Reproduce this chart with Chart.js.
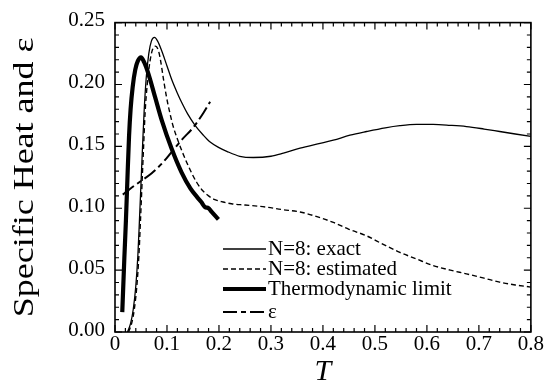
<!DOCTYPE html>
<html>
<head>
<meta charset="utf-8">
<script src="https://cdn.jsdelivr.net/npm/chart.js@4/dist/chart.umd.min.js"></script>
<style>
  html, body { margin: 0; padding: 0; background: #fff; }
  #wrap { position: relative; width: 544px; height: 388px; }
  #legend { position: absolute; left: 223px; top: 238px; font-family: "Liberation Serif", serif; font-size: 21px; color: #000; }
  .row { display: flex; align-items: center; height: 20px; line-height: 20px; white-space: nowrap; }
  .row svg { width: 43px; height: 20px; margin-right: 2px; flex: none; }
</style>
</head>
<body>
<div id="wrap">
  <canvas id="c" width="544" height="388"></canvas>
  <div id="legend"></div>
</div>
<script>
// ---- data ----
const exactT   = [0.024,0.030,0.035,0.040,0.044,0.047,0.050,0.053,0.056,0.060,0.065,0.070,0.076,0.082,0.090,0.100,0.110,0.120,0.130,0.140,0.154,0.170,0.183,0.200,0.215,0.240,0.266,0.300,0.324,0.356,0.390,0.420,0.452,0.484,0.520,0.548,0.580,0.612,0.645,0.676,0.710,0.740,0.770,0.800];
const exactC   = [0.000,0.007,0.018,0.037,0.062,0.090,0.120,0.150,0.178,0.205,0.225,0.235,0.238,0.235,0.227,0.215,0.203,0.193,0.184,0.176,0.167,0.159,0.1535,0.149,0.146,0.142,0.141,0.142,0.1445,0.1485,0.152,0.155,0.159,0.162,0.165,0.1667,0.1677,0.1677,0.167,0.166,0.164,0.162,0.160,0.158];

const estT     = [0.026,0.032,0.037,0.042,0.046,0.049,0.052,0.055,0.058,0.062,0.067,0.072,0.078,0.083,0.087,0.093,0.099,0.105,0.112,0.120,0.128,0.138,0.148,0.157,0.167,0.180,0.192,0.208,0.224,0.250,0.290,0.320,0.356,0.390,0.420,0.450,0.484,0.515,0.548,0.580,0.612,0.645,0.676,0.710,0.740,0.770,0.800];
const estC     = [0.000,0.007,0.018,0.037,0.062,0.090,0.120,0.150,0.178,0.200,0.218,0.228,0.231,0.228,0.221,0.205,0.190,0.178,0.166,0.156,0.147,0.137,0.128,0.121,0.115,0.110,0.107,0.105,0.1036,0.1026,0.101,0.099,0.097,0.093,0.0885,0.083,0.0777,0.071,0.0643,0.059,0.0537,0.050,0.047,0.0435,0.0403,0.038,0.0363];

const thermoT  = [0.014,0.018,0.021,0.024,0.027,0.030,0.034,0.039,0.044,0.050,0.056,0.064,0.077,0.090,0.109,0.128,0.145,0.158,0.166,0.173,0.180,0.186,0.199];
const thermoC  = [0.016,0.060,0.090,0.125,0.158,0.180,0.198,0.212,0.219,0.222,0.218,0.209,0.190,0.171,0.148,0.129,0.116,0.109,0.105,0.101,0.100,0.097,0.091];

const epsT     = [0.015,0.030,0.050,0.070,0.090,0.110,0.130,0.150,0.170,0.183];
const epsV     = [0.111,0.116,0.122,0.128,0.136,0.146,0.156,0.165,0.177,0.186];

const seriesLabels = ["N=8: exact", "N=8: estimated", "Thermodynamic limit", "\u03b5"];
const xTickLabels  = ["0", "0.1", "0.2", "0.3", "0.4", "0.5", "0.6", "0.7", "0.8"];
const yTickLabels  = ["0.00", "0.05", "0.10", "0.15", "0.20", "0.25"];
const xAxisTitle   = "T";
const yAxisTitle   = "Specific Heat and \u03b5";

const pts = (xs, ys) => xs.map((v, i) => ({ x: v, y: ys[i] }));

// inward frame ticks (minor every 0.02 on x, 0.01 on y)
const frameTicks = {
  id: 'frameTicks',
  afterDatasetsDraw(chart) {
    const { ctx, chartArea: a, scales: { x, y } } = chart;
    ctx.save();
    ctx.strokeStyle = '#000';
    ctx.lineWidth = 1.6;
    ctx.strokeRect(a.left, a.top, a.right - a.left, a.bottom - a.top);
    ctx.lineWidth = 1.2;
    ctx.beginPath();
    for (let i = 0; i <= 40; i++) {
      const px = x.getPixelForValue(i * 0.02);
      const L = (i % 5 === 0) ? 7 : 4;
      ctx.moveTo(px, a.bottom); ctx.lineTo(px, a.bottom - L);
      ctx.moveTo(px, a.top); ctx.lineTo(px, a.top + L);
    }
    for (let i = 0; i <= 25; i++) {
      const py = y.getPixelForValue(i * 0.01);
      const L = (i % 5 === 0) ? 7 : 4;
      ctx.moveTo(a.left, py); ctx.lineTo(a.left + L, py);
      ctx.moveTo(a.right, py); ctx.lineTo(a.right - L, py);
    }
    ctx.stroke();
    ctx.restore();
  },
  afterLayout(chart) {
    const s = chart.scales.y;
    if (s && !s._stretched) {
      const orig = s.drawTitle;
      s.drawTitle = function () {
        const c = this.ctx;
        const cy = (this.top + this.bottom) / 2;
        c.save();
        c.translate(0, cy); c.scale(1, 1.24); c.translate(0, -cy);
        orig.call(this);
        c.restore();
      };
      s._stretched = true;
    }
  }
};

const serif = "'Liberation Serif', 'Times New Roman', serif";

const chart = new Chart(document.getElementById('c'), {
  type: 'scatter',
  data: {
    datasets: [
      { label: seriesLabels[0], data: pts(exactT, exactC), borderColor: '#000', borderWidth: 1.3, borderDash: [] },
      { label: seriesLabels[1], data: pts(estT, estC), borderColor: '#000', borderWidth: 1.4, borderDash: [5, 3] },
      { label: seriesLabels[2], data: pts(thermoT, thermoC), borderColor: '#000', borderWidth: 4.2, borderDash: [] },
      { label: seriesLabels[3], data: pts(epsT, epsV), borderColor: '#000', borderWidth: 2, borderDash: [14, 4, 5, 4] }
    ].map(d => Object.assign(d, { showLine: true, pointRadius: 0, fill: false, cubicInterpolationMode: 'monotone', backgroundColor: '#000' }))
  },
  options: {
    responsive: false,
    animation: false,
    events: [],
    layout: { padding: { left: 11, right: 13, top: 20, bottom: 1 } },
    plugins: { legend: { display: false }, tooltip: { enabled: false } },
    scales: {
      x: {
        type: 'linear', min: 0, max: 0.8,
        grid: { display: false, drawTicks: false },
        border: { display: false },
        afterFit(s) { s.height = 55; },
        ticks: {
          stepSize: 0.1, padding: 0, color: '#000', maxRotation: 0, autoSkip: false,
          font: { family: serif, size: 21 },
          callback: (v) => xTickLabels[Math.round(v * 10)]
        },
        title: { display: true, text: xAxisTitle, color: '#000', padding: 0,
                 font: { family: serif, size: 30, style: 'italic', lineHeight: 1 } }
      },
      y: {
        type: 'linear', min: 0, max: 0.25,
        grid: { display: false, drawTicks: false },
        border: { display: false },
        afterFit(s) { s.width = 104; },
        ticks: {
          stepSize: 0.05, padding: 10, color: '#000', labelOffset: -2,
          font: { family: serif, size: 21 },
          callback: (v) => yTickLabels[Math.round(v * 20)]
        },
        title: { display: true, text: yAxisTitle, color: '#000', padding: 0,
                 font: { family: serif, size: 29, lineHeight: 1 } }
      }
    }
  },
  plugins: [frameTicks]
});

// HTML legend built from the datasets
const legend = document.getElementById('legend');
chart.data.datasets.forEach((d, i) => {
  const row = document.createElement('div');
  row.className = 'row';
  if (i === 3) row.style.marginTop = '3px';
  const ns = 'http://www.w3.org/2000/svg';
  const svg = document.createElementNS(ns, 'svg');
  svg.setAttribute('viewBox', '0 0 43 20');
  const ln = document.createElementNS(ns, 'line');
  ln.setAttribute('x1', '0'); ln.setAttribute('x2', '43');
  ln.setAttribute('y1', '11'); ln.setAttribute('y2', '11');
  ln.setAttribute('stroke', '#000');
  ln.setAttribute('stroke-width', String(d.borderWidth));
  if (d.borderDash.length) ln.setAttribute('stroke-dasharray', d.borderDash.join(' '));
  svg.appendChild(ln);
  row.appendChild(svg);
  const span = document.createElement('span');
  span.textContent = d.label;
  row.appendChild(span);
  legend.appendChild(row);
});
</script>
</body>
</html>
